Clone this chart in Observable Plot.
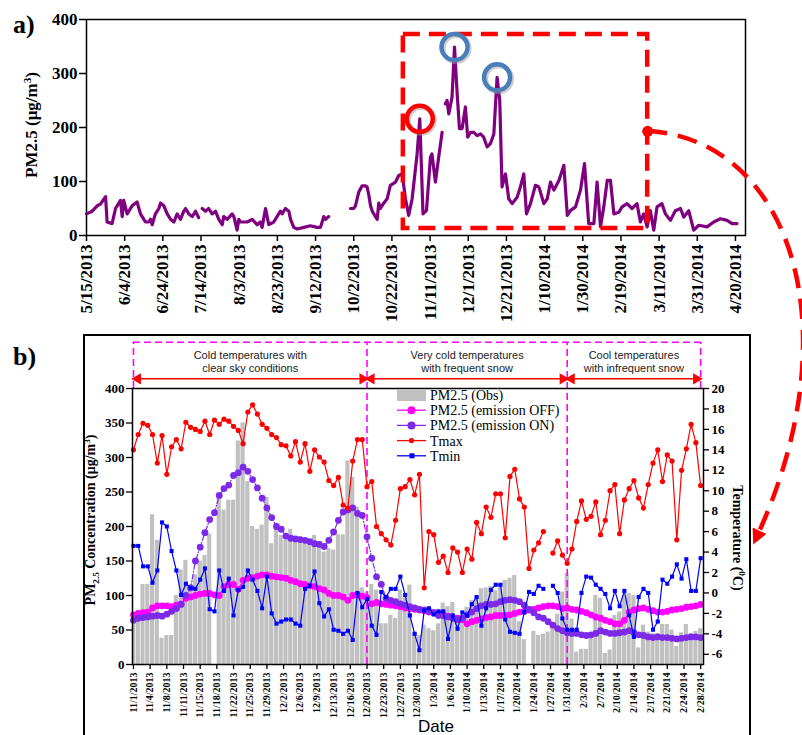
<!DOCTYPE html>
<html><head><meta charset="utf-8">
<script src="https://cdn.jsdelivr.net/npm/d3@7"></script>
<script src="https://cdn.jsdelivr.net/npm/@observablehq/plot@0.6"></script>
<style>
body{margin:0;background:#fff;width:802px;height:735px;overflow:hidden;position:relative;font-family:"Liberation Serif",serif}
.abs{position:absolute}
.rot{position:absolute;white-space:nowrap;font-weight:bold;font-family:"Liberation Serif",serif;line-height:1}
sub,sup{font-size:65%}
</style></head><body>
<div id="boxB" class="abs" style="left:83px;top:334px;width:664px;height:420px;border:2px solid #000;"></div>
<div id="a" class="abs" style="left:0;top:0"></div>
<div id="b" class="abs" style="left:0;top:335px"></div>
<div class="abs" style="left:13px;top:10px;font:bold 26px 'Liberation Serif',serif">a)</div>
<div class="abs" style="left:13px;top:342px;font:bold 26px 'Liberation Serif',serif">b)</div>
<div class="rot" style="left:31px;top:125px;font-size:17px;transform:translate(-50%,-50%) rotate(-90deg)">PM2.5 (μg/m<sup>3</sup>)</div>
<div class="rot" style="left:92px;top:520px;font-size:14px;transform:translate(-50%,-50%) rotate(-90deg)">PM<sub>2.5</sub> Concentration (μg/m<sup>3</sup>)</div>
<div class="rot" style="left:738px;top:538px;font-size:14px;transform:translate(-50%,-50%) rotate(90deg)">Temperature (<sup>0</sup>C)</div>
<div class="abs" style="left:418px;top:718px;font:17px 'Liberation Sans',sans-serif;line-height:1">Date</div>
<div id="legend" class="abs" style="left:390px;top:386px"></div>
<svg id="overlay" class="abs" style="left:0;top:0;pointer-events:none" width="802" height="735"></svg>
<script>
// ---------------- DATA ----------------
// Panel a: daily PM2.5, [days since 5/15/2013, value]; null = missing
const panelA = [[0,40],[3,45],[5.6,55],[7.3,58],[10,72],[10.8,25],[13.4,22],[15.2,50],[17.8,65],[18.7,35],[19.5,65],[21.3,40],[23.9,55],[26.5,62],[28.3,40],[30.9,25],[32.6,25],[33.5,30],[34.4,20],[36.1,40],[37.9,50],[38.8,60],[40.5,55],[42.3,40],[44,30],[45.8,25],[47.5,40],[49.2,30],[51,45],[51.9,50],[53.6,40],[55.4,35],[57.1,45],[58.8,33],[59.7,null],[60.6,50],[62.3,45],[64,50],[65.8,40],[67.6,45],[69.3,30],[71.1,20],[71.9,35],[73.7,30],[76.3,40],[77.2,35],[78.9,10],[79.8,30],[80.7,25],[84.2,25],[86.8,30],[89.4,20],[91.1,25],[92,15],[93.8,50],[95.5,20],[98.1,25],[99.8,35],[101.6,45],[102.5,40],[104.2,50],[106,45],[106.9,30],[108.6,15],[110.4,12],[113.9,15],[117.3,18],[120.8,15],[122.6,15],[124.3,35],[125.2,30],[126.9,35],[130,null],[138.3,50],[140,50],[140.9,55],[142.6,80],[144.4,92],[146.1,92],[147,90],[147.9,75],[148.8,55],[149.7,45],[151.4,35],[152.3,30],[153.1,60],[154,50],[155.5,59],[157.5,68],[159.2,93],[161.9,99],[163.6,111],[165.4,114],[167.1,68],[168.8,37],[170.6,68],[173.2,151],[174.6,216],[176.3,40],[178.1,46],[180.2,145],[181,151],[182.8,99],[184.5,145],[186.3,191],[187.1,null],[188,244],[188.9,250],[189.8,225],[191.5,256],[192.8,349],[194.2,262],[195.4,198],[196.8,198],[198.5,238],[199.7,182],[201.2,191],[202.9,191],[204.7,185],[206.4,188],[208.1,182],[209.9,164],[211.6,170],[213.4,188],[215.1,293],[216.5,250],[217.7,90],[219.5,114],[221.2,68],[223,59],[225.6,71],[227.3,90],[229.1,114],[230.5,40],[232.6,59],[235.2,93],[237,90],[239.6,59],[241.4,68],[243.1,99],[244.9,84],[247.5,102],[250.1,130],[251.9,37],[253.5,46],[256.2,53],[258.8,84],[260.9,133],[263.1,22],[265.8,22],[267.5,99],[269.3,16],[271,53],[272.8,102],[274.5,102],[276.3,40],[278.9,43],[280.6,53],[283.2,59],[285.8,50],[288.4,59],[290.2,25],[291.9,40],[293.7,16],[295.4,46],[297.2,10],[298.9,53],[301.5,59],[303.3,40],[305.9,28],[308.5,46],[311.2,50],[312.9,34],[315.5,46],[318.1,10],[320.8,19],[325.1,16],[328.6,25],[332.1,31],[335.6,28],[338.2,22],[340.8,22]];
const aTickLabels = ["5/15/2013","6/4/2013","6/24/2013","7/14/2013","8/3/2013","8/23/2013","9/12/2013","10/2/2013","10/22/2013","11/11/2013","12/1/2013","12/21/2013","1/10/2014","1/30/2014","2/19/2014","3/11/2014","3/31/2014","4/20/2014"];
const aYTicks = [0,100,200,300,400];
const aHighlightPeaks = [216, 349, 293];            // circled peaks
const zoomBox = {from:"2013-10-28", to:"2014-03-05", low:13, high:372, link:193};

// Panel b: daily values 11/1/2013 .. 2/28/2014
const obsPM = [70,75,116,116,217,180,38,42,42,100, 137,151,115,130,150,158,189,0,248,224, 238,238,324,350,265,200,196,202,242,175, 200,187,180,196,185,185,180,173,187,178, 163,168,166,188,188,295,271,228,111,105, 116,108,59,59,71,67,108,97,115,47, 42,57,52,49,59,89,84,90,64,61, 83,93,98,110,111,113,107,115,122,125, 129,62,36,0,48,42,44,47,52,73, 105,132,66,18,22,22,40,100,96,16, 21,71,76,100,103,100,24,57,47,45, 45,58,58,50,26,46,58,45,48,52];
const emisOFF = [72,74,75,76,82,85,85,85,84,86, 88,96,98,100,102,103,103,101,100,113, 116,116,109,122,125,126,128,130,130,128, 127,126,125,122,120,117,116,114,113,110, 108,103,100,100,98,93,100,101,99,97, 88,90,88,87,86,85,84,82,81,80, 79,78,76,75,72,71,70,68,67,65, 59,62,64,66,68,69,71,71,71,72, 74,76,77,79,80,82,84,85,85,84, 81,82,80,79,77,75,72,69,67,64, 62,59,59,64,76,79,81,82,80,78, 76,76,77,79,80,81,83,84,85,87];
const emisON = [64,67,68,69,70,71,70,73,77,81, 87,100,111,150,170,191,210,220,245,255, 260,274,278,286,280,268,256,241,227,213, 200,196,186,183,182,181,180,178,175,174, 171,180,192,209,221,224,227,219,216,185, 154,127,116,96,93,91,88,86,84,82, 80,79,77,75,71,71,69,67,65,67, 72,76,81,85,87,87,88,91,93,94, 93,91,86,80,75,69,67,62,57,52, 49,46,45,45,43,42,43,45,49,47, 45,45,46,47,49,46,43,42,40,39, 40,39,39,38,37,38,39,40,40,39];
const tmax = [14.0,15.5,16.6,16.4,15.5,12.7,15.4,11.6,14.3,15.0, 14.1,16.7,16.2,16.0,15.8,16.8,15.5,16.9,16.5,17.0, 16.8,16.3,15.9,14.6,17.7,18.4,17.5,16.5,16.1,15.5, 15.2,14.5,14.4,13.4,14.8,12.8,14.6,11.9,14.0,13.3, 12.8,11.0,10.5,11.3,8.6,8.3,12.9,15.0,15.0,10.4, 10.9,6.5,5.8,5.2,4.7,7.1,10.2,10.4,11.1,9.6, 11.6,0.5,6.0,5.7,3.0,3.6,2.0,4.4,4.0,2.0, 4.3,3.3,6.9,5.8,8.4,7.4,9.7,9.7,5.4,11.4, 12.1,9.2,8.4,2.4,4.2,4.9,6.0,null,3.9,5.1, 3.7,2.9,4.3,7.0,9.0,7.2,7.5,8.9,5.7,7.1, 10.0,10.6,5.8,9.1,10.2,11.0,9.3,8.3,10.6,12.7, 14.0,10.9,13.5,12.9,5.2,12.0,14.1,16.5,14.7,10.5];
const tmin = [4.6,4.6,2.6,2.6,1.0,2.2,6.9,6.5,4.1,2.2, -0.2,0.9,0.5,0.4,1.3,2.4,-1.6,-1.8,2.2,0.2, 1.4,-2.2,0.3,0.6,2.2,1.3,0.2,-1.5,1.6,-2.0, -3.0,-2.8,-2.6,-2.6,-3.0,-3.2,0.4,0.7,2.1,-1.0, -2.3,-1.6,-3.6,-3.7,-4.0,-3.7,-4.6,0.0,-1.4,-0.6, -3.2,-4.1,0.1,-0.4,0.4,0.4,1.6,-0.2,-2.2,-4.0, -5.6,-1.7,-1.5,-2.1,-1.8,-1.8,-4.5,-2.2,-3.5,-1.9, -2.2,-1.1,-0.4,-3.2,-1.5,0.3,0.8,0.8,-2.6,-3.8, -3.9,-4.0,-1.9,0.1,-0.1,0.7,0.4,null,0.7,0.0, -2.5,-3.6,-3.6,-3.6,0.0,1.6,1.5,0.8,0.4,-0.1, -1.5,0.2,-1.3,0.2,-2.2,-4.3,-0.4,0.4,0.0,-3.6, -2.8,1.3,0.9,1.6,2.8,1.4,3.3,0.2,0.2,3.4];
const bTickLabels = ["11/1/2013","11/4/2013","11/8/2013","11/11/2013","11/15/2013","11/18/2013","11/22/2013","11/25/2013","11/29/2013","12/2/2013","12/6/2013","12/9/2013","12/13/2013","12/16/2013","12/20/2013","12/23/2013","12/27/2013","12/30/2013","1/3/2014","1/6/2014","1/10/2014","1/13/2014","1/17/2014","1/20/2014","1/24/2014","1/27/2014","1/31/2014","2/3/2014","2/7/2014","2/10/2014","2/14/2014","2/17/2014","2/21/2014","2/24/2014","2/28/2014"];
const bTickStepDays = 3.5;
const leftTicks = [0,50,100,150,200,250,300,350,400];
const rightTicks = [-6,-4,-2,0,2,4,6,8,10,12,14,16,18,20];
const tempDomain = [-7, 20];
const regions = [
  {from:"2013-11-01", to:"2013-12-20", label:"Cold temperatures with\nclear sky conditions"},
  {from:"2013-12-20", to:"2014-01-31", label:"Very cold temperatures\nwith frequent snow"},
  {from:"2014-01-31", to:"2014-02-28", label:"Cool temperatures\nwith infrequent snow"}];
const legendItems = [
  {label:"PM2.5 (Obs)", key:"obs"},
  {label:"PM2.5 (emission OFF)", key:"off"},
  {label:"PM2.5 (emission ON)", key:"on"},
  {label:"Tmax", key:"tmax"},
  {label:"Tmin", key:"tmin"}];

// ---------------- STYLE ----------------
const C = {a:"#7f007f", obs:"#c0c0c0", off:"#ff00ff", on:"#7d2ae8", tmax:"#ff0000", tmin:"#0000ff", box:"#ff0000", ring:["#ff0000","#4a7ebb","#4a7ebb"], mag:"#ff00ff"};
const DAY = 864e5;
const parse = d3.utcParse("%m/%d/%Y");
const iso = s => new Date(s + "T00:00:00Z");
const serif = "'Liberation Serif', serif";

// ---------------- PANEL A ----------------
const aStart = Date.UTC(2013,4,15);
const aPts = panelA.map(([d,v]) => ({date:new Date(aStart + d*DAY), v: v==null?NaN:v}));
const aTicks = aTickLabels.map(parse);
const aLab = new Map(aTicks.map((d,i)=>[+d, aTickLabels[i]]));
const rings = aHighlightPeaks.map((p,i)=>({...aPts.find(d=>d.v===p), c:C.ring[i]}));

const plotA = Plot.plot({
  width:802, height:330, marginTop:19, marginLeft:86, marginRight:57, marginBottom:95,
  x:{type:"utc", domain:[new Date(aStart), new Date(Date.UTC(2014,3,25,6))]},
  y:{domain:[0,400]},
  style:{fontFamily:serif, fontWeight:"bold", fontSize:"17px", background:"transparent", overflow:"visible", color:"#000"},
  marks:[
    Plot.frame({strokeWidth:1.5}),
    Plot.axisX({ticks:aTicks, tickFormat:d=>aLab.get(+d), tickRotate:-90, tickSize:6, tickPadding:3, label:null, strokeWidth:1.5}),
    Plot.axisY({ticks:aYTicks, tickSize:7, tickPadding:2, label:null, strokeWidth:1.5}),
    Plot.line(aPts, {x:"date", y:"v", stroke:C.a, strokeWidth:3.2}),
    Plot.rect([zoomBox], {x1:d=>iso(d.from), x2:d=>iso(d.to), y1:"low", y2:"high", fill:"none", stroke:C.box, strokeWidth:4.5, strokeDasharray:"17,9"}),
    Plot.dot(rings, {x:"date", y:"v", r:13, stroke:"#999", strokeOpacity:0.5, strokeWidth:5, dx:1.5, dy:1.5}),
    Plot.dot(rings, {x:"date", y:"v", r:13, stroke:"c", strokeWidth:4.5, fill:"none"}),
    Plot.dot([zoomBox], {x:d=>iso(d.to), y:"link", r:5.5, fill:C.box})
  ]
});
document.getElementById("a").append(plotA);

// ---------------- PANEL B ----------------
const bStart = Date.UTC(2013,10,1);
const t2pm = t => (t - tempDomain[0])/(tempDomain[1]-tempDomain[0])*400;
const pm2t = v => v/400*(tempDomain[1]-tempDomain[0]) + tempDomain[0];
const B = obsPM.map((o,i)=>({
  date:new Date(bStart + i*DAY), obs:o, off:emisOFF[i], on:emisON[i],
  tmax: tmax[i]==null?NaN:t2pm(tmax[i]), tmin: tmin[i]==null?NaN:t2pm(tmin[i])}));
const bTicks = bTickLabels.map((l,i)=>new Date(bStart + i*bTickStepDays*DAY));
const bLab = new Map(bTicks.map((d,i)=>[+d, bTickLabels[i]]));
const TOP = 467, ARROW = 414, TEXT = 439;
const bounds = [regions[0].from, ...regions.map(r=>r.to)].map(iso);
const inner = bounds.slice(1,-1);
const heads = regions.flatMap(r=>[{x:new Date(+iso(r.from)+0.9*DAY), rot:-90},{x:new Date(+iso(r.to)-0.9*DAY), rot:90}]);

const plotB = Plot.plot({
  width:802, height:400, marginTop:53, marginLeft:132, marginRight:99, marginBottom:71,
  x:{type:"utc", domain:[new Date(bStart-0.2*DAY), new Date(bStart+119.6*DAY)]},
  y:{domain:[0,400]},
  style:{fontFamily:serif, fontWeight:"bold", fontSize:"13px", background:"transparent", overflow:"visible", color:"#000"},
  marks:[
    Plot.rect(B.filter(d=>d.obs>0), {x1:d=>new Date(+d.date-0.5*DAY), x2:d=>new Date(+d.date+0.5*DAY), y1:0, y2:"obs", fill:C.obs, insetLeft:0.3, insetRight:0.3, clip:true}),
    Plot.ruleX(inner, {x:d=>d, y1:0, y2:TOP, stroke:C.mag, strokeWidth:1.6, strokeDasharray:"7,4"}),
    Plot.ruleX([bounds[0], bounds[bounds.length-1]], {x:d=>d, y1:400, y2:TOP, stroke:C.mag, strokeWidth:1.6, strokeDasharray:"7,4"}),
    Plot.ruleY([TOP], {x1:bounds[0], x2:bounds[bounds.length-1], stroke:C.mag, strokeWidth:1.6, strokeDasharray:"7,4"}),
    Plot.link(regions, {x1:d=>new Date(+iso(d.from)+0.8*DAY), x2:d=>new Date(+iso(d.to)-0.8*DAY), y1:ARROW, y2:ARROW, stroke:C.tmax, strokeWidth:1.5}),
    Plot.dot(heads, {x:"x", y:ARROW, symbol:"triangle", rotate:"rot", r:4.2, fill:C.tmax}),
    Plot.text(regions, {x:d=>new Date((+iso(d.from) + +iso(d.to))/2), y:TEXT, text:"label", fontFamily:"'Liberation Sans', sans-serif", fontWeight:"normal", fontSize:11, lineHeight:1.13, fill:"#222"}),
    Plot.line(B, {x:"date", y:"off", stroke:C.off, strokeWidth:1.2}),
    Plot.dot(B, {x:"date", y:"off", r:3.4, fill:C.off}),
    Plot.line(B, {x:"date", y:"on", stroke:C.on, strokeWidth:1.2, strokeDasharray:"5,2,1,2"}),
    Plot.dot(B, {x:"date", y:"on", r:3.4, fill:C.on}),
    Plot.line(B, {x:"date", y:"tmax", stroke:C.tmax, strokeWidth:1.2}),
    Plot.dot(B, {x:"date", y:"tmax", r:2.6, fill:C.tmax}),
    Plot.line(B, {x:"date", y:"tmin", stroke:C.tmin, strokeWidth:1.2}),
    Plot.dot(B, {x:"date", y:"tmin", r:2.3, symbol:"square", fill:C.tmin}),
    Plot.frame({strokeWidth:1.5}),
    Plot.axisX({ticks:bTicks, tickFormat:d=>bLab.get(+d), tickRotate:-90, tickSize:5, tickPadding:3, fontSize:10, label:null, strokeWidth:1.3}),
    Plot.axisY({ticks:leftTicks, tickSize:6, tickPadding:2, label:null, strokeWidth:1.3}),
    Plot.axisY({anchor:"right", ticks:rightTicks.map(t2pm), tickFormat:v=>String(Math.round(pm2t(v))), tickSize:5, tickPadding:3, label:null, strokeWidth:1.3})
  ]
});
document.getElementById("b").append(plotB);

// ---------------- LEGEND ----------------
const lg = d3.select("#legend").append("svg").attr("width",200).attr("height",80)
  .style("font-family", serif).style("font-size","14px");
const row = lg.selectAll("g").data(legendItems).join("g").attr("transform",(d,i)=>`translate(0,${9+i*15.2})`);
row.each(function(d){
  const g = d3.select(this);
  if (d.key==="obs") g.append("rect").attr("x",7).attr("y",-6).attr("width",29).attr("height",12).attr("fill",C.obs);
  else {
    g.append("line").attr("x1",7).attr("x2",36).attr("stroke",C[d.key]).attr("stroke-width",1.3);
    if (d.key==="tmin") g.append("rect").attr("x",19.5).attr("y",-2.5).attr("width",5).attr("height",5).attr("fill",C[d.key]);
    else g.append("circle").attr("cx",21.5).attr("r", d.key==="tmax"?2.6:4).attr("fill",C[d.key]);
  }
  g.append("text").attr("x",40).attr("y",5).text(d.label);
});

// ---------------- CONNECTOR ----------------
const sx = plotA.scale("x").apply(iso(zoomBox.to)), sy = plotA.scale("y").apply(zoomBox.link);
const ex = 757, ey = 335 + plotB.scale("y").apply(t2pm(5.5));
const ov = d3.select("#overlay");
ov.append("defs").append("marker").attr("id","ah").attr("viewBox","0 0 10 10").attr("refX",4).attr("refY",5)
  .attr("markerWidth",3.4).attr("markerHeight",3.4).attr("orient","auto")
  .append("path").attr("d","M0,0L10,5L0,10z").attr("fill",C.box);
ov.append("path").attr("d",`M${sx},${sy}C${sx+145},${sy+9} ${sx+205},${sy+199} ${ex},${ey}`)
  .attr("fill","none").attr("stroke",C.box).attr("stroke-width",4.5).attr("stroke-dasharray","20,11")
  .attr("marker-end","url(#ah)");
</script>
</body></html>
